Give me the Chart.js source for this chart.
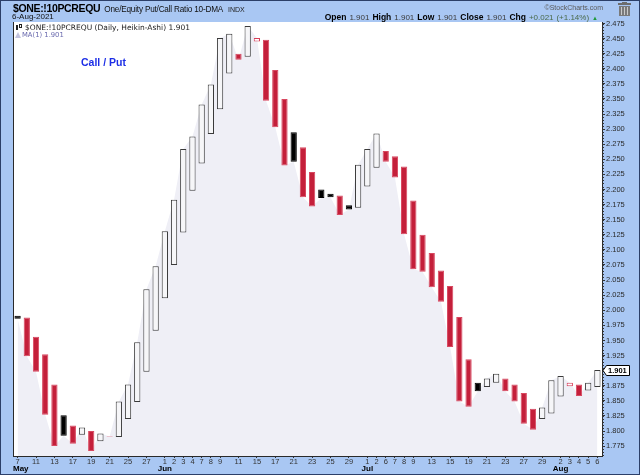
<!DOCTYPE html>
<html><head><meta charset="utf-8">
<script src="https://cdn.jsdelivr.net/npm/chart.js@4.4.1/dist/chart.umd.min.js"></script>
<style>
html,body{margin:0;padding:0;background:#fff;}
#wrap{position:relative;width:640px;height:475px;background:#a9c7f3;overflow:hidden;font-family:"Liberation Sans",Arial,sans-serif;}
#frame{position:absolute;left:0;top:0;width:640px;height:475px;box-sizing:border-box;border:1px solid #2c3f68;pointer-events:none;}
canvas{position:absolute;left:0;top:0;}
.t{position:absolute;white-space:nowrap;}
.b{font-weight:bold;color:#000;}
.n{color:#3a3a3a;}
</style></head><body>
<div id="wrap">
<canvas id="c" width="640" height="475"></canvas>
<div class="t" style="left:13px;top:3px;line-height:10.5px;font-size:10.5px;font-weight:bold;letter-spacing:-0.35px;color:#000">$ONE:!10PCREQU<span style="font-weight:normal;font-size:8.2px;letter-spacing:-0.2px;color:#111;margin-left:4px">One/Equity Put/Call Ratio 10-DMA</span><span style="font-weight:normal;font-size:7px;letter-spacing:0;color:#222;margin-left:5px">INDX</span></div>
<div class="t" style="left:12px;top:13px;line-height:8px;font-size:8px;color:#111">6-Aug-2021</div>
<div class="t" style="right:37px;top:4px;line-height:7px;font-size:7px;color:#5a5a5a">&copy;StockCharts.com</div>
<div class="t" style="right:42px;top:12.5px;line-height:8.5px;font-size:8.5px;word-spacing:0.6px"><span class="b">Open</span> <span class="n" style="font-size:8px">1.901</span> <span class="b">High</span> <span class="n" style="font-size:8px">1.901</span> <span class="b">Low</span> <span class="n" style="font-size:8px">1.901</span> <span class="b">Close</span> <span class="n" style="font-size:8px">1.901</span> <span class="b">Chg</span> <span style="font-size:8px;color:#4a6a4a">+0.021 (+1.14%)</span> <span style="font-size:6px;color:#1f9a3a">&#9650;</span></div>
<!-- trash icon -->
<div style="position:absolute;left:618px;top:3px;width:13px;height:2px;background:#6d6d6d"></div>
<div style="position:absolute;left:622px;top:2px;width:5px;height:1px;background:#6d6d6d"></div>
<div style="position:absolute;left:619px;top:6px;width:11px;height:10px;background:#7a7a7a"></div>
<div style="position:absolute;left:621px;top:7px;width:1px;height:8px;background:#c9c9c9"></div>
<div style="position:absolute;left:624px;top:7px;width:1px;height:8px;background:#c9c9c9"></div>
<div style="position:absolute;left:627px;top:7px;width:1px;height:8px;background:#c9c9c9"></div>
<!-- legend -->
<div style="position:absolute;left:16px;top:25px;width:2px;height:5px;background:#222"></div>
<div style="position:absolute;left:19px;top:24px;height:4px;border:1px solid #222;box-sizing:border-box;width:3px"></div>
<div class="t" style="left:25px;top:23.6px;line-height:7.5px;font-size:7.5px;font-family:'DejaVu Sans',Verdana,sans-serif;color:#222">$ONE:!10PCREQU (Daily, Heikin-Ashi) 1.901</div>
<div style="position:absolute;left:15px;top:32px;width:0;height:0;border-left:3px solid transparent;border-right:3px solid transparent;border-bottom:6px solid #c3c3de"></div>
<div class="t" style="left:22px;top:32px;line-height:6.8px;font-size:6.8px;font-family:'DejaVu Sans',Verdana,sans-serif;color:#6a6aae">MA(1) 1.901</div>
<div class="t" style="left:81px;top:56.8px;line-height:10.5px;font-size:10.5px;font-weight:bold;color:#1c2ee6">Call / Put</div>
<div id="frame"></div>
</div>
<script>
const dates = ['2021-05-07','2021-05-10','2021-05-11','2021-05-12','2021-05-13','2021-05-14','2021-05-17','2021-05-18','2021-05-19','2021-05-20','2021-05-21','2021-05-24','2021-05-25','2021-05-26','2021-05-27','2021-05-28',
 '2021-06-01','2021-06-02','2021-06-03','2021-06-04','2021-06-07','2021-06-08','2021-06-09','2021-06-10','2021-06-11','2021-06-14','2021-06-15','2021-06-16','2021-06-17','2021-06-18','2021-06-21','2021-06-22','2021-06-23','2021-06-24','2021-06-25','2021-06-28','2021-06-29','2021-06-30',
 '2021-07-01','2021-07-02','2021-07-06','2021-07-07','2021-07-08','2021-07-09','2021-07-12','2021-07-13','2021-07-14','2021-07-15','2021-07-16','2021-07-19','2021-07-20','2021-07-21','2021-07-22','2021-07-23','2021-07-26','2021-07-27','2021-07-28','2021-07-29','2021-07-30',
 '2021-08-02','2021-08-03','2021-08-04','2021-08-05','2021-08-06'];
const tickLabels = ['7','','11','','13','','17','','19','','21','','25','','27','',
 '1','2','3','4','7','8','9','','11','','15','','17','','21','','23','','25','','29','',
 '1','2','6','7','8','9','','13','','15','','19','','21','','23','','27','','29','',
 '2','3','4','5','6'];
const openVals = [1.991,1.988,1.956,1.927,1.877,1.826,1.809,1.794,1.800,1.783,1.790,1.790,1.820,1.848,1.898,1.966,
 2.020,2.075,2.129,2.198,2.243,2.292,2.333,2.392,2.425,2.420,2.445,2.448,2.398,2.350,2.295,2.270,2.229,2.200,2.193,2.190,2.174,2.170,
 2.205,2.236,2.264,2.255,2.238,2.182,2.125,2.095,2.066,2.040,1.989,1.919,1.880,1.873,1.880,1.887,1.877,1.863,1.837,1.820,1.829,
 1.857,1.874,1.877,1.867,1.873];
const closeVals = [1.986,1.924,1.898,1.827,1.775,1.792,1.779,1.806,1.767,1.796,1.791,1.849,1.877,1.947,2.035,2.073,
 2.131,2.183,2.267,2.288,2.341,2.374,2.451,2.458,2.415,2.471,2.451,2.347,2.303,2.240,2.246,2.187,2.172,2.186,2.187,2.158,2.167,2.241,
 2.267,2.293,2.246,2.220,2.126,2.068,2.064,2.038,2.014,1.939,1.849,1.840,1.866,1.887,1.895,1.866,1.849,1.812,1.802,1.839,1.884,
 1.891,1.880,1.858,1.880,1.901];
const yTicks = [1.775,1.800,1.825,1.850,1.875,1.900,1.925,1.950,1.975,2.000,2.025,2.050,2.075,2.100,2.125,2.150,2.175,2.200,2.225,2.250,2.275,2.300,2.325,2.350,2.375,2.400,2.425,2.450,2.475];
const monthNames = ['May','Jun','Jul','Aug'];
const monthStart = [0,16,38,59];

const fills = [], borders = [];
closeVals.forEach((c,i)=>{
  const o = openVals[i];
  const rising = i===0 ? true : c > closeVals[i-1];
  if (c > o) {
    fills.push(rising ? '#f6f6f8' : '#ffffff');
    borders.push(rising ? '#3a3a3a' : '#d8405a');
  } else {
    fills.push(rising ? '#000000' : '#c41f3a');
    borders.push(rising ? '#000000' : '#d84860');
  }
});

const decor = {
  id:'decor',
  beforeDraw(chart){
    const {ctx, chartArea:a} = chart;
    ctx.save(); ctx.fillStyle='#ffffff';
    ctx.fillRect(a.left,a.top,a.right-a.left,a.bottom-a.top); ctx.restore();
  },
  afterDraw(chart){
    const {ctx, chartArea:a, scales} = chart;
    const x = scales.x, y = scales.y;
    ctx.save();
    ctx.strokeStyle='#2a2a2a'; ctx.lineWidth=1;
    ctx.beginPath(); ctx.moveTo(a.left+0.5,a.top); ctx.lineTo(a.left+0.5,a.bottom+0.5); ctx.stroke();
    ctx.strokeStyle='#333';
    ctx.beginPath();
    for (let v = Math.ceil(y.min/0.005)*0.005; v <= y.max; v += 0.005) {
      const py = Math.round(y.getPixelForValue(v)) + 0.5;
      ctx.moveTo(a.right, py); ctx.lineTo(a.right+2, py);
    }
    ctx.stroke();
    ctx.fillStyle='#000'; ctx.font='bold 8px "Liberation Sans", Arial, sans-serif';
    ctx.textBaseline='alphabetic'; ctx.textAlign='left';
    monthNames.forEach((m,k)=>{
      const w = ctx.measureText(m).width;
      let px = x.getPixelForValue(monthStart[k]) - w/2;
      if (px < a.left) px = a.left;
      ctx.fillText(m, px, 470.5);
    });
    const last = closeVals[closeVals.length-1];
    const py = Math.round(y.getPixelForValue(last));
    ctx.fillStyle='#fff'; ctx.strokeStyle='#000';
    ctx.beginPath();
    ctx.moveTo(a.right+1, py+0.5);
    ctx.lineTo(a.right+4.5, py-4.5);
    ctx.lineTo(a.right+27.5, py-4.5);
    ctx.lineTo(a.right+27.5, py+5.5);
    ctx.lineTo(a.right+4.5, py+5.5);
    ctx.closePath(); ctx.fill(); ctx.stroke();
    ctx.fillStyle='#000'; ctx.font='bold 7.5px "Liberation Sans", Arial, sans-serif';
    ctx.textAlign='left'; ctx.textBaseline='middle';
    ctx.fillText(last.toFixed(3), a.right+6, py+1);
    ctx.restore();
  }
};

new Chart(document.getElementById('c'), {
  type:'bar',
  data:{
    labels: dates,
    datasets:[
      {
        type:'bar',
        data: openVals.map((o,i)=>[o, closeVals[i]]),
        backgroundColor: fills,
        borderColor: borders,
        borderWidth: 1,
        borderSkipped: false,
        barPercentage: 0.68,
        categoryPercentage: 1.0,
        order: 1
      },
      {
        type:'line',
        data: closeVals,
        fill: 'start',
        backgroundColor: '#efeff6',
        borderWidth: 0,
        borderColor: 'rgba(0,0,0,0)',
        pointRadius: 0,
        tension: 0,
        order: 2
      }
    ]
  },
  options:{
    responsive:false,
    animation:false,
    devicePixelRatio: 1,
    layout:{padding:{left:13, top:22, right:0, bottom:0}},
    plugins:{legend:{display:false}, tooltip:{enabled:false}},
    scales:{
      x:{
        type:'category',
        offset:true,
        grid:{display:true, drawOnChartArea:false, drawTicks:true, tickLength:2, offset:false,
          color:(ctx)=> (ctx.index!==undefined && tickLabels[ctx.index]) ? '#333' : 'rgba(0,0,0,0)'},
        border:{display:true, color:'#2a2a2a'},
        ticks:{autoSkip:false, maxRotation:0, minRotation:0, padding:-1, color:'#333',
          font:{size:7.5, family:'"Liberation Sans", Arial, sans-serif'},
          callback:(v,i)=>tickLabels[i]},
        afterFit:(s)=>{s.height = 19;}
      },
      y:{
        type:'linear',
        position:'right',
        min:1.7586, max:2.4775,
        afterBuildTicks:(s)=>{s.ticks = yTicks.map(v=>({value:v}));},
        grid:{display:true, drawOnChartArea:false, drawTicks:true, tickLength:3, color:'#333'},
        border:{display:true, color:'#2a2a2a'},
        ticks:{padding:1, color:'#2a2a2a', font:{size:7.5, family:'"Liberation Sans", Arial, sans-serif'},
          callback:(v)=>Number(v).toFixed(3)},
        afterFit:(s)=>{s.width = 38;}
      }
    }
  },
  plugins:[decor]
});
</script>
</body></html>
